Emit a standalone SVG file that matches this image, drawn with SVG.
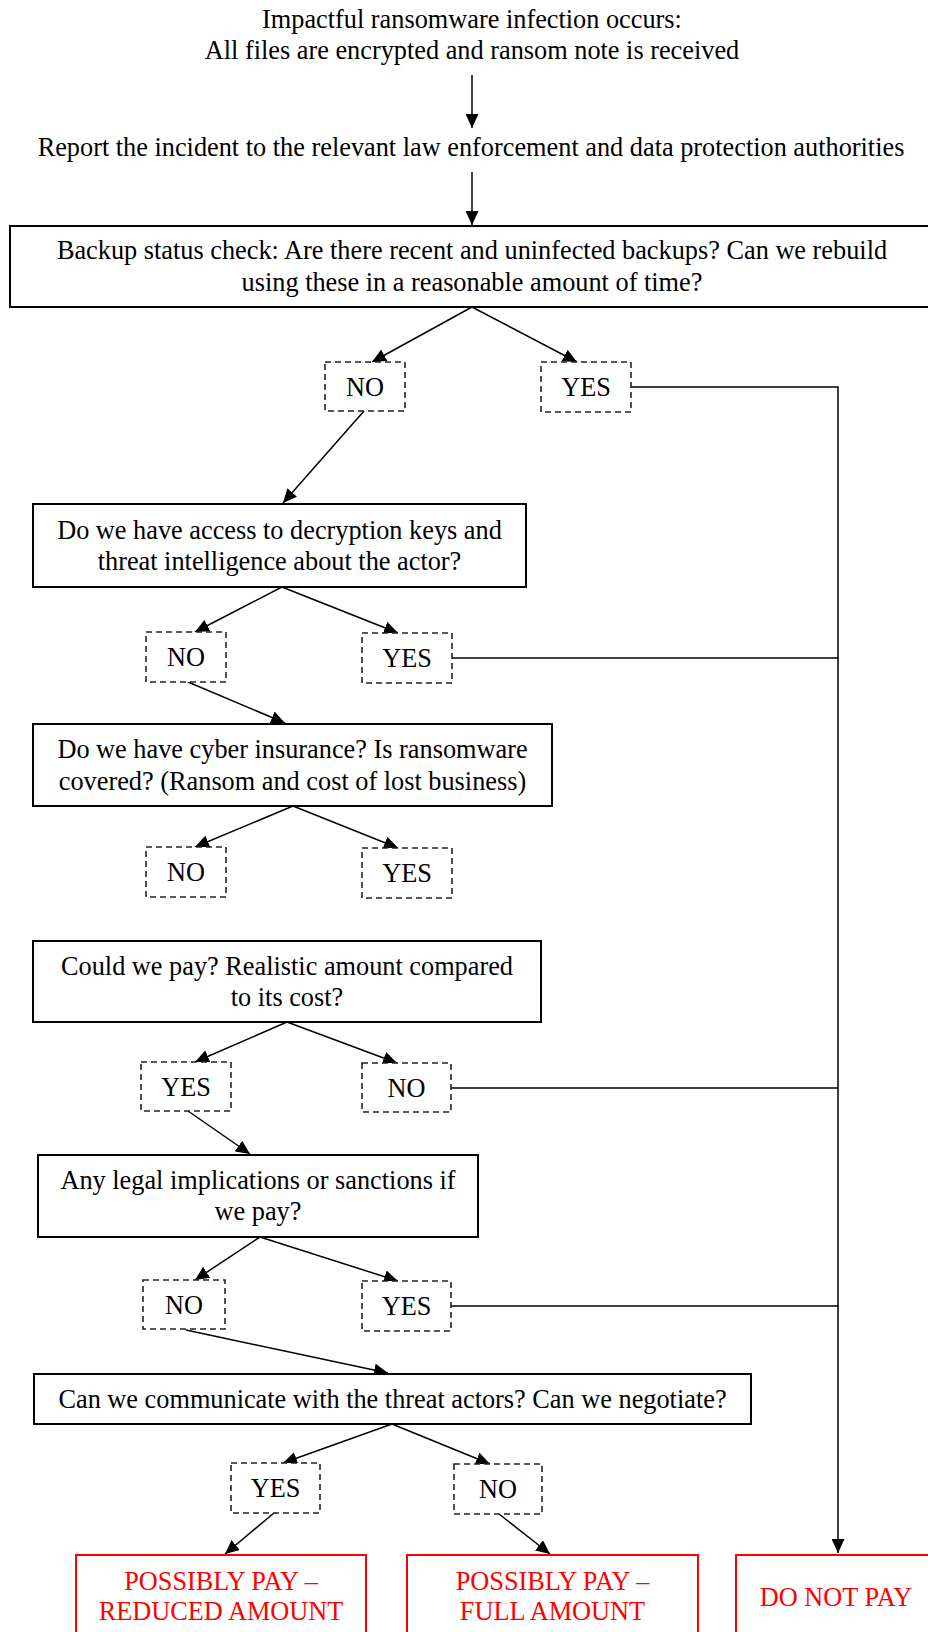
<svg xmlns="http://www.w3.org/2000/svg" width="928" height="1632" viewBox="0 0 928 1632">
<style>
text{font-family:"Liberation Serif","Times New Roman",serif;font-size:26.3px;fill:#000;text-anchor:middle}
.box{fill:#fff;stroke:#000;stroke-width:2}
.dash{fill:#fff;stroke:#222;stroke-width:1.6;stroke-dasharray:6 4}
.red{fill:#fff;stroke:#f00;stroke-width:2}
.rt{fill:#f00}
.c{fill:none;stroke:#000;stroke-width:1.5}
.ca{fill:none;stroke:#000;stroke-width:1.5;marker-end:url(#ah)}
</style>
<defs>
<marker id="ah" markerUnits="userSpaceOnUse" markerWidth="15" markerHeight="13" refX="14" refY="6.5" orient="auto">
<path d="M0,0 L14,6.5 L0,13 z" fill="#000"/>
</marker>
</defs>
<rect width="928" height="1632" fill="#fff"/>
<g id="connectors">
<line class="ca" x1="472" y1="75" x2="472" y2="128"/>
<line class="ca" x1="472" y1="172" x2="472" y2="225"/>
<line class="ca" x1="472" y1="307" x2="372" y2="362"/>
<line class="ca" x1="472" y1="307" x2="577" y2="362"/>
<polyline class="ca" points="631,387 838,387 838,1553"/>
<line class="ca" x1="364" y1="411" x2="283" y2="503"/>
<line class="ca" x1="282" y1="587" x2="195" y2="632"/>
<line class="ca" x1="282" y1="587" x2="398" y2="633"/>
<line class="c" x1="452" y1="658" x2="838" y2="658"/>
<line class="ca" x1="188" y1="682" x2="285" y2="723"/>
<line class="ca" x1="293" y1="806" x2="195" y2="847"/>
<line class="ca" x1="293" y1="806" x2="398" y2="848"/>
<line class="ca" x1="287" y1="1022" x2="195" y2="1062"/>
<line class="ca" x1="287" y1="1022" x2="397" y2="1063"/>
<line class="c" x1="451" y1="1088" x2="838" y2="1088"/>
<line class="ca" x1="188" y1="1111" x2="250" y2="1154"/>
<line class="ca" x1="260" y1="1237" x2="195" y2="1280"/>
<line class="ca" x1="260" y1="1237" x2="398" y2="1281"/>
<line class="c" x1="451" y1="1306" x2="838" y2="1306"/>
<line class="ca" x1="186" y1="1330" x2="388" y2="1373"/>
<line class="ca" x1="392" y1="1424" x2="283" y2="1463"/>
<line class="ca" x1="392" y1="1424" x2="490" y2="1464"/>
<line class="ca" x1="274" y1="1513" x2="225" y2="1554"/>
<line class="ca" x1="499" y1="1514" x2="550" y2="1554"/>
</g>
<g id="start">
<text x="472" y="28">Impactful ransomware infection occurs:</text>
<text x="472" y="59">All files are encrypted and ransom note is received</text>
</g>
<g id="report">
<text x="471" y="156">Report the incident to the relevant law enforcement and data protection authorities</text>
</g>
<g id="backup">
<rect class="box" x="10" y="226" width="930" height="81"/>
<text x="472" y="259">Backup status check: Are there recent and uninfected backups? Can we rebuild</text>
<text x="472" y="291">using these in a reasonable amount of time?</text>
</g>
<g id="no1"><rect class="dash" x="325" y="362" width="80" height="49"/><text x="365" y="396">NO</text></g>
<g id="yes1"><rect class="dash" x="541" y="362" width="90" height="50"/><text x="586" y="396">YES</text></g>
<g id="keys">
<rect class="box" x="33" y="504" width="493" height="83"/>
<text x="279.5" y="539">Do we have access to decryption keys and</text>
<text x="279.5" y="570">threat intelligence about the actor?</text>
</g>
<g id="no2"><rect class="dash" x="146" y="632" width="80" height="50"/><text x="186" y="666">NO</text></g>
<g id="yes2"><rect class="dash" x="362" y="633" width="90" height="50"/><text x="407" y="667">YES</text></g>
<g id="insurance">
<rect class="box" x="33" y="724" width="519" height="82"/>
<text x="292.5" y="758">Do we have cyber insurance? Is ransomware</text>
<text x="292.5" y="790">covered? (Ransom and cost of lost business)</text>
</g>
<g id="no3"><rect class="dash" x="146" y="847" width="80" height="50"/><text x="186" y="881">NO</text></g>
<g id="yes3"><rect class="dash" x="362" y="848" width="90" height="50"/><text x="407" y="882">YES</text></g>
<g id="pay">
<rect class="box" x="33" y="941" width="508" height="81"/>
<text x="287" y="975">Could we pay? Realistic amount compared</text>
<text x="287" y="1006">to its cost?</text>
</g>
<g id="yes4"><rect class="dash" x="141" y="1062" width="90" height="49"/><text x="186" y="1096">YES</text></g>
<g id="no4"><rect class="dash" x="362" y="1063" width="89" height="49"/><text x="406.5" y="1097">NO</text></g>
<g id="legal">
<rect class="box" x="38" y="1155" width="440" height="82"/>
<text x="258" y="1189">Any legal implications or sanctions if</text>
<text x="258" y="1220">we pay?</text>
</g>
<g id="no5"><rect class="dash" x="143" y="1280" width="82" height="49"/><text x="184" y="1314">NO</text></g>
<g id="yes5"><rect class="dash" x="362" y="1281" width="89" height="50"/><text x="406.5" y="1315">YES</text></g>
<g id="negotiate">
<rect class="box" x="34" y="1374" width="717" height="50"/>
<text x="392.5" y="1408">Can we communicate with the threat actors? Can we negotiate?</text>
</g>
<g id="yes6"><rect class="dash" x="231" y="1463" width="89" height="50"/><text x="275.5" y="1497">YES</text></g>
<g id="no6"><rect class="dash" x="454" y="1464" width="88" height="50"/><text x="498" y="1498">NO</text></g>
<g id="reduced">
<rect class="red" x="76" y="1555" width="290" height="110"/>
<text class="rt" x="221" y="1590">POSSIBLY PAY –</text>
<text class="rt" x="221" y="1620">REDUCED AMOUNT</text>
</g>
<g id="full">
<rect class="red" x="407" y="1555" width="291" height="110"/>
<text class="rt" x="552.5" y="1590">POSSIBLY PAY –</text>
<text class="rt" x="552.5" y="1620">FULL AMOUNT</text>
</g>
<g id="donotpay">
<rect class="red" x="736" y="1555" width="200" height="110"/>
<text class="rt" x="836" y="1606">DO NOT PAY</text>
</g>
</svg>
